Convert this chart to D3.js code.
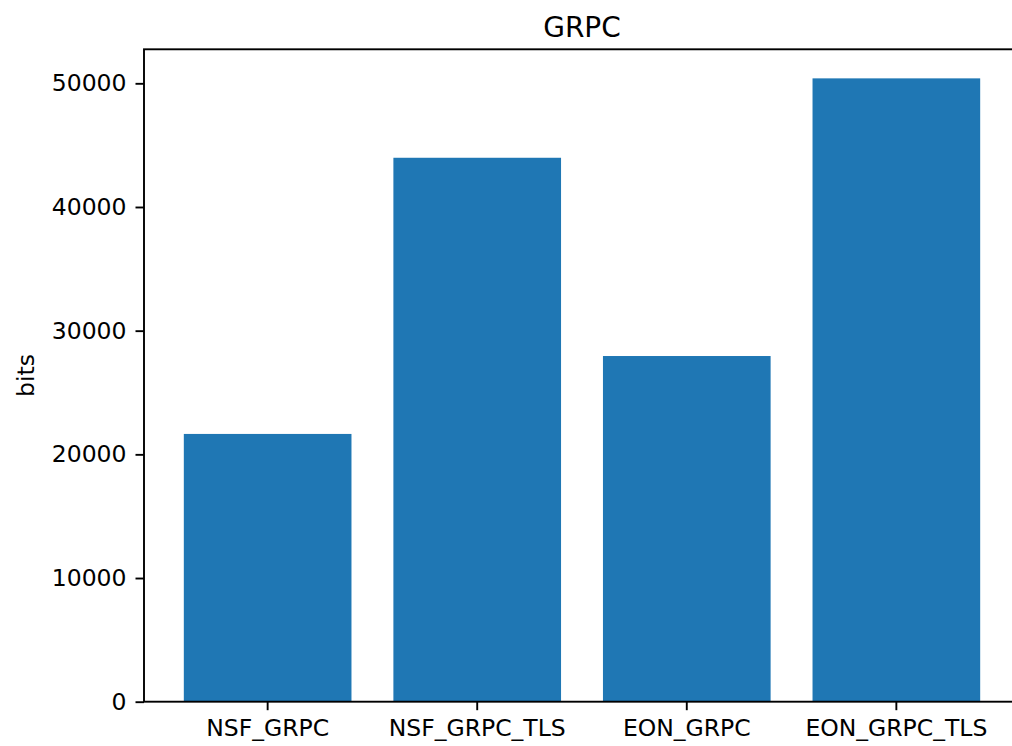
<!DOCTYPE html>
<html>
<head>
<meta charset="utf-8">
<script src="https://cdn.jsdelivr.net/npm/d3@7"></script>
<style>
  html, body { margin: 0; padding: 0; background: #fff; }
  svg { display: block; font-family: "DejaVu Sans", sans-serif; }
</style>
</head>
<body>
<svg id="chart" width="1012" height="746"></svg>
<script>
// Message size per transport variant
const categories = ["NSF_GRPC", "NSF_GRPC_TLS", "EON_GRPC", "EON_GRPC_TLS"];
const bits = [21650, 43980, 27950, 50400];
const yTicks = [0, 10000, 20000, 30000, 40000, 50000];
const titleText = "GRPC";
const yLabel = "bits";

const svg = d3.select("#chart");
const plotLeft = 144, plotRight = 1020, plotTop = 49.3, plotBottom = 701.7;

const x = d3.scaleBand()
  .domain(categories)
  .range([plotLeft, plotRight])
  .paddingInner(0.2)
  .paddingOuter(0.19);

const y = d3.scaleLinear()
  .domain([0, 52750])
  .range([plotBottom, plotTop]);

// Bars
svg.append("g")
  .selectAll("rect")
  .data(categories)
  .join("rect")
  .attr("x", d => x(d))
  .attr("width", x.bandwidth())
  .attr("y", (d, i) => y(bits[i]))
  .attr("height", (d, i) => plotBottom - y(bits[i]))
  .attr("fill", "#1f77b4");

// Axes
const yAxis = d3.axisLeft(y)
  .tickValues(yTicks)
  .tickFormat(d3.format("d"))
  .tickSize(8.5)
  .tickPadding(9);
const gy = svg.append("g").attr("transform", `translate(${plotLeft},0)`).call(yAxis);

const xAxis = d3.axisBottom(x).tickSize(8.5).tickPadding(9);
const gx = svg.append("g").attr("transform", `translate(0,${plotBottom})`).call(xAxis);

[gx, gy].forEach(g => {
  g.select(".domain").remove();
  g.selectAll(".tick line").attr("stroke", "#000").attr("stroke-width", 1.9);
  g.selectAll(".tick text")
    .attr("fill", "#000")
    .style("font-family", "'DejaVu Sans', sans-serif")
    .style("font-size", "23.5px");
});

// Frame
svg.append("rect")
  .attr("x", plotLeft).attr("y", plotTop)
  .attr("width", plotRight - plotLeft).attr("height", plotBottom - plotTop)
  .attr("fill", "none")
  .attr("stroke", "#000")
  .attr("stroke-width", 1.9);

// Title
svg.append("text")
  .attr("x", (plotLeft + plotRight) / 2)
  .attr("y", 37)
  .attr("text-anchor", "middle")
  .attr("fill", "#000")
  .style("font-size", "28px")
  .text(titleText);

// Y label
svg.append("text")
  .attr("transform", `translate(34,${(plotTop + plotBottom) / 2}) rotate(-90)`)
  .attr("text-anchor", "middle")
  .attr("fill", "#000")
  .style("font-size", "23.5px")
  .text(yLabel);
</script>
</body>
</html>
